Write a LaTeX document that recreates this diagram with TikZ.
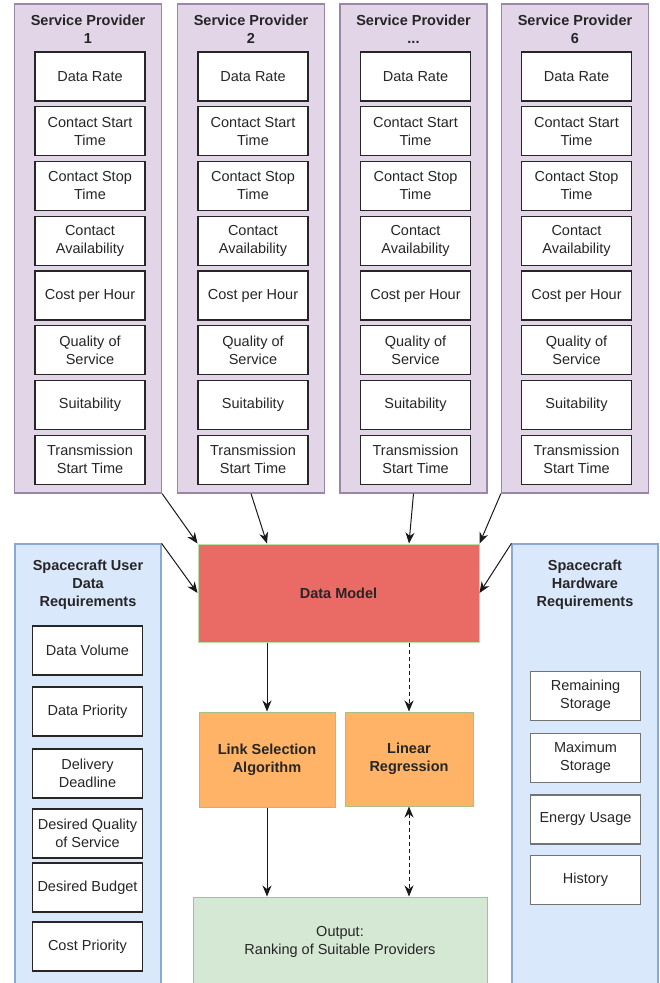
\documentclass[tikz,border=0pt]{standalone}
\usepackage{fontspec}
\setmainfont{Liberation Sans}
\usetikzlibrary{arrows.meta,calc}
\newcommand{\mydots}{...}
\definecolor{spfill}{HTML}{E1D5E7}
\definecolor{spdraw}{HTML}{9A86A8}
\definecolor{bfill}{HTML}{DAE8FC}
\definecolor{bdraw}{HTML}{8AA8D6}
\definecolor{rfill}{HTML}{EA6B66}
\definecolor{rdraw}{HTML}{B9E0A5}
\definecolor{ofill}{HTML}{FFB366}
\definecolor{odraw}{HTML}{A9BF8A}
\definecolor{gfill}{HTML}{D5E8D4}
\definecolor{gdraw}{HTML}{9CC883}
\tikzset{
  box/.style={rectangle, inner sep=0pt, align=center, font=\fontsize{14.5}{18}\selectfont, text=black!85},
  spcol/.style={box, fill=spfill, draw=spdraw, line width=1.2pt, minimum width=147pt, minimum height=489pt},
  item/.style={box, fill=white, draw=black!85, line width=1.1pt, minimum width=110pt, minimum height=49pt},
  hitem/.style={item, draw=black!55, line width=1.3pt},
  bcol/.style={box, fill=bfill, draw=bdraw, line width=1.2pt, minimum width=146pt, minimum height=446pt},
  ttl/.style={align=center, inner sep=0pt, text=black!85, font=\bfseries\fontsize{14.5}{18}\selectfont},
  tip/.tip={Stealth[length=11pt,width=9pt,inset=3.5pt]},
  arr/.style={-tip, line width=1pt, black!90},
  darr/.style={arr, dash pattern=on 4pt off 3pt},
  ddarr/.style={tip-tip, line width=1pt, black!90, dash pattern=on 4pt off 3pt}
}
\begin{document}
\begin{tikzpicture}[x=1pt,y=-1pt]
\useasboundingbox (0,0) rectangle (660,983);
% service provider columns
\foreach \i/\cx/\ix/\lab in {1/88/90/1, 2/251/253/2, 3/413.5/415.5/\mydots, 4/575/576.5/6}{
  \node[spcol] (sp\i) at (\cx,248.5) {};
  \node[ttl] (sp\i t) at (\cx,29.5) {Service Provider\\\lab};
  \foreach \j/\txt in {0/Data Rate, 1/Contact Start\\Time, 2/Contact Stop\\Time, 3/Contact\\Availability, 4/Cost per Hour, 5/Quality of\\Service, 6/Suitability, 7/Transmission\\Start Time}{
    \node[item] (sp\i-\j) at (\ix,{76.5+\j*54.75}) {\txt};
  }
}
% left user requirements
\node[bcol] (ub) at (88,767) {};
\node[ttl] (ubt) at (88,584.5) {Spacecraft User\\Data\\Requirements};
\node[item] (u1) at (87.5,650.5) {Data Volume};
\node[item] (u2) at (87.5,711.5) {Data Priority};
\node[item] (u3) at (87.5,773.5) {Delivery\\Deadline};
\node[item] (u4) at (87.5,833.5) {Desired Quality\\of Service};
\node[item] (u5) at (87.5,887.5) {Desired Budget};
\node[item] (u6) at (87.5,946.5) {Cost Priority};
% right hardware requirements
\node[bcol] (hb) at (585,767) {};
\node[ttl] (hbt) at (585,584.5) {Spacecraft\\Hardware\\Requirements};
\node[hitem] (h1) at (585.5,696) {Remaining\\Storage};
\node[hitem] (h2) at (585.5,758) {Maximum\\Storage};
\node[hitem] (h3) at (585.5,819.5) {Energy Usage};
\node[hitem] (h4) at (585.5,880) {History};
% central blocks
\node[box, fill=rfill, draw=rdraw, line width=1pt, minimum width=281pt, minimum height=98pt, font=\bfseries\fontsize{14.5}{18}\selectfont] (dm) at (338.5,593) {Data Model};
\node[box, fill=ofill, draw=odraw, line width=1pt, minimum width=136pt, minimum height=95pt, font=\bfseries\fontsize{14.5}{18}\selectfont] (lsa) at (267,759.5) {Link Selection\\Algorithm};
\node[box, fill=ofill, draw=odraw, line width=1pt, minimum width=128pt, minimum height=94pt, font=\bfseries\fontsize{14.5}{18}\selectfont] (lr) at (409,759) {Linear\\Regression};
\node[box, fill=gfill, draw=gdraw, line width=1pt, minimum width=294pt, minimum height=96pt] (out) at (340,945) {};
\node[ttl, font=\fontsize{14.5}{18}\selectfont] (outt) at (340,942) {Output:\\Ranking of Suitable Providers};
% connectors
\draw[arr] (sp1.south east) -- (dm.north west);
\draw[arr] (sp2.south) -- (dm.north -| lsa);
\draw[arr] (sp3.south) -- (dm.north -| lr);
\draw[arr] (sp4.south west) -- (dm.north east);
\draw[arr] (ub.north east) -- (dm.west);
\draw[arr] (hb.north west) -- (dm.east);
\draw[arr] (dm.south -| lsa) -- (lsa.north);
\draw[darr] (dm.south -| lr) -- (lr.north);
\draw[arr] (lsa.south) -- (out.north -| lsa);
\draw[ddarr] (lr.south) -- (out.north -| lr);
\end{tikzpicture}
\end{document}
